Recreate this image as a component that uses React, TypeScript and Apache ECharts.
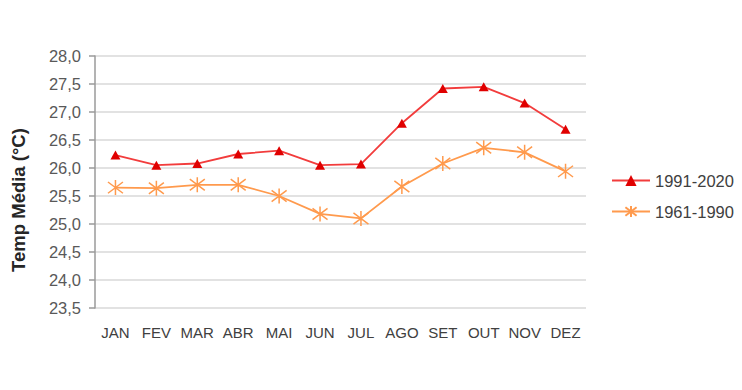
import React, { useEffect, useRef } from "react";
import * as echarts from "echarts";

const months = ["JAN", "FEV", "MAR", "ABR", "MAI", "JUN", "JUL", "AGO", "SET", "OUT", "NOV", "DEZ"];
const series1991 = [26.23, 26.05, 26.08, 26.25, 26.31, 26.05, 26.07, 26.8, 27.42, 27.45, 27.16, 26.69];
const series1961 = [25.65, 25.64, 25.7, 25.7, 25.5, 25.18, 25.1, 25.67, 26.08, 26.36, 26.28, 25.94];
const yTicks = { min: 23.5, max: 28, interval: 0.5 };
const axisTitle = "Temp Média (°C)";
const names = ["1991-2020", "1961-1990"];

const starPath = "path://M8,0L8,16M1,2L15,14M1,14L15,2";
const font = "'Liberation Sans', Arial, sans-serif";

export default function App() {
  const ref = useRef<HTMLDivElement>(null);
  useEffect(() => {
    const chart = echarts.init(ref.current!, null, { renderer: "svg" });
    chart.setOption({
      animation: false,
      backgroundColor: "#ffffff",
      grid: { left: 95, right: 156, top: 56, bottom: 82 },
      graphic: [
        {
          type: "text",
          x: 18,
          y: 200,
          rotation: Math.PI / 2,
          style: {
            text: axisTitle,
            font: "bold 18.5px " + font,
            fill: "#262626",
            textAlign: "center",
            textVerticalAlign: "middle",
          },
        },
      ],
      legend: {
        orient: "vertical",
        left: 606,
        top: 167,
        itemWidth: 38,
        itemHeight: 14,
        itemGap: 14,
        textStyle: { color: "#404040", fontSize: 16.5, fontFamily: font },
        data: names,
      },
      xAxis: {
        type: "category",
        data: months,
        boundaryGap: true,
        axisLine: { show: false },
        axisTick: { show: false },
        axisLabel: { color: "#404040", fontSize: 15, margin: 17, interval: 0, fontFamily: font },
      },
      yAxis: {
        type: "value",
        min: yTicks.min,
        max: yTicks.max,
        interval: yTicks.interval,
        axisLine: { show: true, lineStyle: { color: "#9a9a9a", width: 1.5 } },
        axisTick: { show: true, length: 6, lineStyle: { color: "#9a9a9a", width: 1.5 } },
        splitLine: { show: true, lineStyle: { color: "#d9d9d9", width: 1.5 } },
        axisLabel: {
          color: "#595959",
          fontSize: 16.5,
          margin: 14,
          fontFamily: font,
          formatter: (v: number) => v.toFixed(1).replace(".", ","),
        },
      },
      series: [
        {
          name: names[0],
          type: "line",
          data: series1991,
          symbol: "triangle",
          symbolSize: [10, 9],
          lineStyle: { color: "#f23c3c", width: 1.8 },
          itemStyle: { color: "#e00000" },
        },
        {
          name: names[1],
          type: "line",
          data: series1961,
          symbol: starPath,
          symbolSize: 15,
          lineStyle: { color: "#ff9a4d", width: 1.8 },
          itemStyle: { color: "#ff9a4d", borderColor: "#ff9a4d", borderWidth: 1.5 },
        },
      ],
    });
    return () => chart.dispose();
  }, []);
  return <div ref={ref} style={{ position: "fixed", left: 0, top: 0, width: 742, height: 390 }} />;
}
